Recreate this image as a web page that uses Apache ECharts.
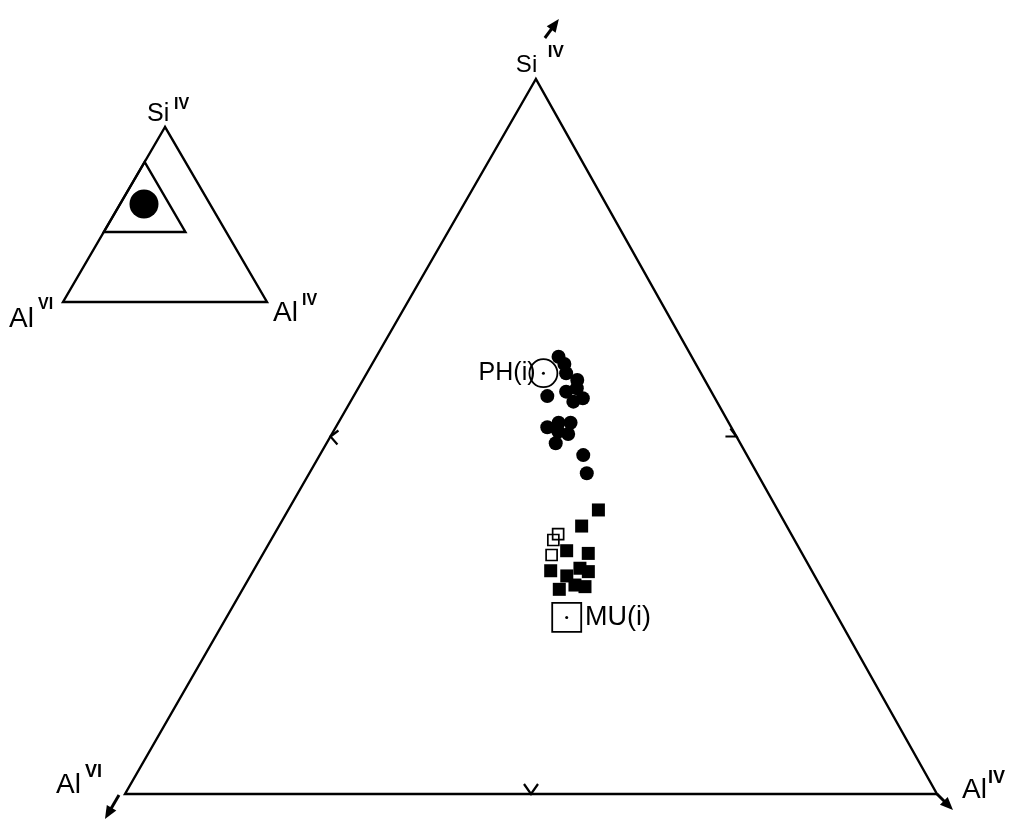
<!DOCTYPE html>
<html><head><meta charset="utf-8">
<script src="https://cdn.jsdelivr.net/npm/echarts@6/dist/echarts.min.js"></script>
<style>html,body{margin:0;padding:0;background:#fff}#c{width:1009px;height:819px}</style>
</head><body><div id="c"></div>
<script>
// Compositions in % of the full Si(IV) – Al(IV) – Al(VI) triangle (Al(VI) = 100 − Si − Al(IV))
const circleSi   = [64.46, 64.06, 63.54, 63.16, 62.70, 62.51, 62.26, 61.95, 62.14, 60.52, 60.77, 60.77, 60.27, 60.14, 59.62, 58.96, 57.94];
const circleAlIV = [ 8.98,  9.47,  9.82, 10.56, 10.77, 10.34,  9.54, 10.98, 11.35, 10.42, 10.85, 11.44, 11.09, 11.64, 11.29, 12.98, 13.67];
const squareSi   = [55.89, 54.99, 53.61, 53.46, 52.49, 52.63, 52.44, 52.20, 51.69, 51.60, 51.45];
const squareAlIV = [15.28, 14.91, 14.87, 16.01, 14.65, 16.02, 16.53, 15.59, 16.25, 16.79, 15.60];
const openSi     = [54.54, 54.21, 53.37];
const openAlIV   = [13.98, 13.91, 14.25];
const refNames   = ['PH(i)', 'MU(i)'];
const refSi      = [63.54, 49.88];
const refAlIV    = [ 8.70, 16.76];
// Window of the full triangle shown in the main diagram (corners: Si, Al(VI), Al(IV))
const windowSi   = [80, 40, 40];
const windowAlIV = [ 0,  0, 40];
// Full triangle corners (inset)
const fullSi     = [100, 0, 0];
const fullAlIV   = [  0, 0, 100];
// Inset location marker
const insetSi    = [56];
const insetAlIV  = [11.7];
// Corner labels
const cornerNames = ['Si', 'Al', 'Al'];
const cornerSups  = ['IV', 'VI', 'IV'];

const SKEW = 0.506; // horizontal position of the Si apex over the base (main drawing)
function mainXY(si, al4) { const s = (si - 40) / 40; return [al4 / 40 + SKEW * s, s]; }
function insetXY(si, al4) { const s = si / 100; return [al4 / 100 + 0.5 * s, s]; }

const FONT = '"Liberation Sans", Arial, sans-serif';
const LW = 2.4;

function arrow(p, s, t) {
  const x0 = p[0] + s[0], y0 = p[1] + s[1], x1 = p[0] + t[0], y1 = p[1] + t[1];
  const dx = x1 - x0, dy = y1 - y0, L = Math.hypot(dx, dy), ux = dx / L, uy = dy / L;
  const hl = 13, hw = 5.5;
  const bx = x1 - ux * hl, by = y1 - uy * hl;
  return {type: 'group', children: [
    {type: 'line', shape: {x1: x0, y1: y0, x2: bx + ux * 2, y2: by + uy * 2}, style: {stroke: '#000', lineWidth: 3}},
    {type: 'polygon', shape: {points: [[x1, y1], [bx - uy * hw, by + ux * hw], [bx + uy * hw, by - ux * hw]]}, style: {fill: '#000'}}
  ]};
}
function chev(p, arms) {
  return {type: 'polyline', shape: {points: [[p[0] + arms[0][0], p[1] + arms[0][1]], p, [p[0] + arms[1][0], p[1] + arms[1][1]]]},
    style: {fill: 'none', stroke: '#000', lineWidth: 2.2}};
}
function txt(x, y, text, size, weight) {
  return {type: 'text', x: x, y: y, style: {text: text, fontSize: size, fontFamily: FONT, fontWeight: weight || 'normal', fill: '#000', align: 'left', verticalAlign: 'middle'}};
}
const mid = (a, b) => [(a[0] + b[0]) / 2, (a[1] + b[1]) / 2];

function renderMain(params, api) {
  const V = windowSi.map((s, k) => api.coord(mainXY(s, windowAlIV[k])));
  const ch = [];
  ch.push({type: 'polygon', shape: {points: V}, style: {fill: 'none', stroke: '#000', lineWidth: LW}});
  ch.push(chev(mid(V[0], V[1]), [[8, -6], [7, 8]]));
  ch.push(chev(mid(V[0], V[2]), [[-11, 0], [-6, -8]]));
  ch.push(chev(mid(V[1], V[2]), [[-7, -10], [7, -10]]));
  ch.push(arrow(V[0], [9, -41], [23, -60]));
  ch.push(arrow(V[1], [-6, 1], [-20, 25]));
  ch.push(arrow(V[2], [0, 0], [16, 16]));
  const off = [
    {m: [-20, -14, 24], s: [12, -27, 17]},
    {m: [-69, -9, 28], s: [-40, -22, 18]},
    {m: [25, -4, 28], s: [51, -16, 18]}
  ];
  V.forEach((p, k) => {
    ch.push(txt(p[0] + off[k].m[0], p[1] + off[k].m[1], cornerNames[k], off[k].m[2]));
    ch.push(txt(p[0] + off[k].s[0], p[1] + off[k].s[1], cornerSups[k], off[k].s[2], 'bold'));
  });
  return {type: 'group', children: ch};
}

function renderInset(params, api) {
  const V = fullSi.map((s, k) => api.coord(insetXY(s, fullAlIV[k])));
  const W = windowSi.map((s, k) => api.coord(insetXY(s, windowAlIV[k])));
  const ch = [];
  ch.push({type: 'polygon', shape: {points: V}, style: {fill: 'none', stroke: '#000', lineWidth: LW}});
  ch.push({type: 'polygon', shape: {points: W}, style: {fill: 'none', stroke: '#000', lineWidth: LW}});
  const off = [
    {m: [-18, -13, 25], s: [9, -22, 16]},
    {m: [-54, 17, 28], s: [-25, 3, 16]},
    {m: [6, 11, 28], s: [35, -1, 16]}
  ];
  V.forEach((p, k) => {
    ch.push(txt(p[0] + off[k].m[0], p[1] + off[k].m[1], cornerNames[k], off[k].m[2]));
    ch.push(txt(p[0] + off[k].s[0], p[1] + off[k].s[1], cornerSups[k], off[k].s[2], 'bold'));
  });
  return {type: 'group', children: ch};
}

const chart = echarts.init(document.getElementById('c'), null, {renderer: 'canvas'});
const ax = (i) => ({type: 'value', min: 0, max: 1, show: false, gridIndex: i});
chart.setOption({
  animation: false,
  backgroundColor: '#fff',
  grid: [
    {left: 125, top: 79, width: 812, height: 715},
    {left: 63, top: 127, width: 204, height: 175}
  ],
  xAxis: [ax(0), ax(1)],
  yAxis: [ax(0), ax(1)],
  series: [
    {type: 'custom', xAxisIndex: 0, yAxisIndex: 0, renderItem: renderMain, data: [[0, 0]], clip: false, silent: true, z: 1},
    {type: 'custom', xAxisIndex: 1, yAxisIndex: 1, renderItem: renderInset, data: [[0, 0]], clip: false, silent: true, z: 1},
    {type: 'scatter', name: 'circles', xAxisIndex: 0, yAxisIndex: 0, symbol: 'circle', symbolSize: 14,
      itemStyle: {color: '#000', opacity: 1}, data: circleSi.map((s, i) => mainXY(s, circleAlIV[i])), z: 3},
    {type: 'scatter', name: 'squares', xAxisIndex: 0, yAxisIndex: 0, symbol: 'rect', symbolSize: 13,
      itemStyle: {color: '#000', opacity: 1}, data: squareSi.map((s, i) => mainXY(s, squareAlIV[i])), z: 3},
    {type: 'scatter', name: 'open squares', xAxisIndex: 0, yAxisIndex: 0, symbol: 'rect', symbolSize: 11,
      itemStyle: {color: 'rgba(0,0,0,0)', borderColor: '#000', borderWidth: 1.7, opacity: 1}, data: openSi.map((s, i) => mainXY(s, openAlIV[i])), z: 3},
    {type: 'scatter', name: 'reference', xAxisIndex: 0, yAxisIndex: 0,
      itemStyle: {color: 'rgba(0,0,0,0)', borderColor: '#000', borderWidth: 1.8, opacity: 1},
      data: refNames.map((n, i) => ({
        name: n, value: mainXY(refSi[i], refAlIV[i]),
        symbol: i === 0 ? 'circle' : 'rect', symbolSize: i === 0 ? 28 : 29,
        label: {show: true, formatter: '{b}', position: i === 0 ? 'left' : 'right', distance: i === 0 ? -7 : 3,
          color: '#000', opacity: 1, fontSize: i === 0 ? 25 : 27, fontFamily: FONT}
      })), z: 3},
    {type: 'scatter', name: 'reference centre', xAxisIndex: 0, yAxisIndex: 0, symbol: 'circle', symbolSize: 3,
      itemStyle: {color: '#000', opacity: 1}, data: refSi.map((s, i) => mainXY(s, refAlIV[i])), z: 4},
    {type: 'scatter', name: 'inset location', xAxisIndex: 1, yAxisIndex: 1, symbol: 'circle', symbolSize: 29,
      itemStyle: {color: '#000', opacity: 1}, data: insetSi.map((s, i) => insetXY(s, insetAlIV[i])), z: 3}
  ]
});
</script>
</body></html>
